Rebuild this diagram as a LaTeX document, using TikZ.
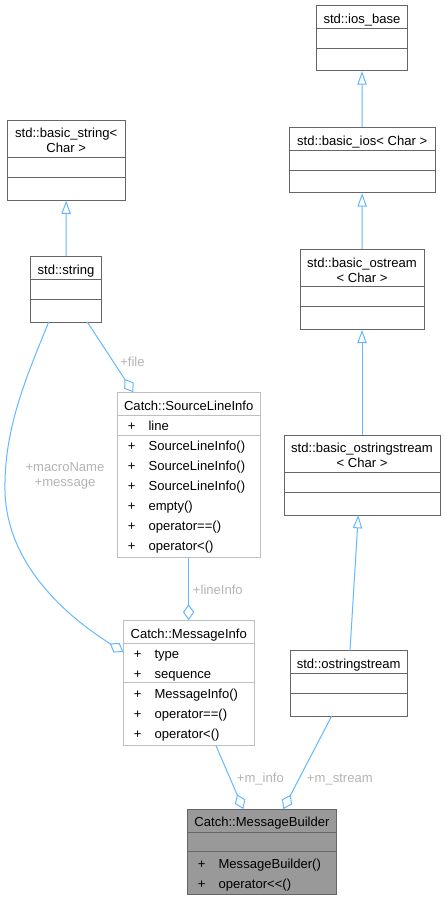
\documentclass[tikz,border=0pt]{standalone}
\usepackage{fontspec}
\setmainfont{Liberation Sans}
\usetikzlibrary{arrows.meta}
\definecolor{edgeblue}{HTML}{63B8FF}
\definecolor{stdgray}{HTML}{666666}
\definecolor{catchgray}{HTML}{BFBFBF}
\definecolor{fillgray}{HTML}{999999}
\definecolor{lblgray}{HTML}{B4B4B4}
\newcommand\ubox[6]{%
  \node[#6, minimum width={(#4-#2)*0.75pt}, minimum height={(#5-#3)*0.75pt}] (#1) at ({(#2+#4)/2},{(#3+#5)/2}) {};}
\newcommand\udiv[3]{\draw[#3] (#1.west |- 0,#2) -- (#1.east |- 0,#2);}
\begin{document}
\begin{tikzpicture}[x=0.75pt,y=-0.75pt,
  font=\fontsize{9.8pt}{11.25pt}\selectfont,
  stdbox/.style={draw=stdgray, line width=0.75pt, inner sep=0pt, rectangle},
  catchbox/.style={draw=catchgray, line width=0.75pt, inner sep=0pt, rectangle},
  mainbox/.style={draw=stdgray, fill=fillgray, line width=0.75pt, inner sep=0pt, rectangle},
  stdline/.style={draw=stdgray, line width=0.75pt},
  catchline/.style={draw=catchgray, line width=0.75pt},
  ttl/.style={inner sep=0pt, anchor=base},
  ttltwo/.style={inner sep=0pt, anchor=center, align=center},
  plus/.style={inner sep=0pt, anchor=base},
  mem/.style={inner sep=0pt, anchor=base west},
  lbl/.style={inner sep=0pt, text=lblgray, anchor=base west},
  inh/.style={draw=edgeblue, line width=0.75pt, -{Triangle[open, length=10pt, width=7pt]}},
  agg/.style={draw=edgeblue, line width=0.75pt, -{Diamond[open, length=12pt, width=8.5pt]}}
]
\useasboundingbox[fill=white] (0,0) rectangle (445,900);

% std::ios_base
\ubox{iosbase}{316.7}{5}{407.3}{70.7}{stdbox}
\udiv{iosbase}{28}{stdline}\udiv{iosbase}{48}{stdline}
\node[ttl] (iosbaset) at (362,23) {std::ios\_base};

% std::basic_ios
\ubox{bios}{289.3}{127.3}{435}{192.7}{stdbox}
\udiv{bios}{150}{stdline}\udiv{bios}{170}{stdline}
\node[ttl] (biost) at (362.2,145.4) {std::basic\_ios< Char >};

% std::basic_ostream
\ubox{bostream}{300}{249.3}{424}{329.3}{stdbox}
\udiv{bostream}{286}{stdline}\udiv{bostream}{306.7}{stdline}
\node[ttltwo] (bostreamt) at (362,270) {std::basic\_ostream\\< Char >};

% std::basic_string
\ubox{bstring}{7.3}{120}{125}{200}{stdbox}
\udiv{bstring}{157.3}{stdline}\udiv{bstring}{177.3}{stdline}
\node[ttltwo] (bstringt) at (66.2,140.8) {std::basic\_string<\\Char >};

% std::string
\ubox{string}{30.7}{256.7}{101.3}{322}{stdbox}
\udiv{string}{279.3}{stdline}\udiv{string}{299.3}{stdline}
\node[ttl] (stringt) at (66,274) {std::string};

% Catch::SourceLineInfo
\ubox{sli}{117.3}{392.3}{260}{557.7}{catchbox}
\udiv{sli}{415.3}{catchline}\udiv{sli}{435.3}{catchline}
\node[ttl] (slit) at (188.7,410) {Catch::SourceLineInfo};
\node[plus] (slip1) at (131.7,430.7) {+};
\node[mem] (slim1) at (148.3,430.7) {line};
\node[plus] (slip2) at (131.7,450.7) {+};
\node[mem] (slim2) at (148.3,450.7) {SourceLineInfo()};
\node[plus] (slip3) at (131.7,470.7) {+};
\node[mem] (slim3) at (148.3,470.7) {SourceLineInfo()};
\node[plus] (slip4) at (131.7,490.7) {+};
\node[mem] (slim4) at (148.3,490.7) {SourceLineInfo()};
\node[plus] (slip5) at (131.7,510.7) {+};
\node[mem] (slim5) at (148.3,510.7) {empty()};
\node[plus] (slip6) at (131.7,530.7) {+};
\node[mem] (slim6) at (148.3,530.7) {operator==()};
\node[plus] (slip7) at (131.7,550.7) {+};
\node[mem] (slim7) at (148.3,550.7) {operator<()};

% std::basic_ostringstream
\ubox{bostrs}{284}{435}{440}{515}{stdbox}
\udiv{bostrs}{472.7}{stdline}\udiv{bostrs}{492.7}{stdline}
\node[ttltwo] (bostrst) at (362,455.8) {std::basic\_ostringstream\\< Char >};

% Catch::MessageInfo
\ubox{minfo}{123.3}{620.7}{254}{745.7}{catchbox}
\udiv{minfo}{643.3}{catchline}\udiv{minfo}{682.7}{catchline}
\node[ttl] (minfot) at (188.7,638) {Catch::MessageInfo};
\node[plus] (mip1) at (137.7,658.4) {+};
\node[mem] (mim1) at (154.3,658.4) {type};
\node[plus] (mip2) at (137.7,678.4) {+};
\node[mem] (mim2) at (154.3,678.4) {sequence};
\node[plus] (mip3) at (137.7,698.4) {+};
\node[mem] (mim3) at (154.3,698.4) {MessageInfo()};
\node[plus] (mip4) at (137.7,718.4) {+};
\node[mem] (mim4) at (154.3,718.4) {operator==()};
\node[plus] (mip5) at (137.7,738.4) {+};
\node[mem] (mim5) at (154.3,738.4) {operator<()};

% std::ostringstream
\ubox{ostr}{290}{650.7}{407.3}{716}{stdbox}
\udiv{ostr}{673.3}{stdline}\udiv{ostr}{693.3}{stdline}
\node[ttl] (ostrt) at (348.7,668) {std::ostringstream};

% Catch::MessageBuilder
\ubox{mb}{187.3}{809}{336.7}{894.3}{mainbox}
\udiv{mb}{832.3}{stdline}\udiv{mb}{851.7}{stdline}
\node[ttl] (mbt) at (262,826.7) {Catch::MessageBuilder};
\node[plus] (mbp1) at (201.7,868) {+};
\node[mem] (mbm1) at (218.3,868) {MessageBuilder()};
\node[plus] (mbp2) at (201.7,888) {+};
\node[mem] (mbm2) at (218.3,888) {operator<{}<()};

% inheritance edges
\draw[inh] (bios.north) -- (iosbase.south);
\draw[inh] (bostream.north) -- (bios.south);
\draw[inh] (bostrs.north) -- (bostream.south);
\draw[inh] (string.north) -- (bstring.south);
\coordinate (ostrtop) at (350,650.7);
\coordinate (bostrsbot) at (358.3,515);
\draw[inh] (ostrtop) -- (bostrsbot);

% aggregation edges
\coordinate (strbotR) at (87.3,322);
\coordinate (slitop) at (133.3,392.3);
\draw[agg] (strbotR) -- (slitop);
\coordinate (strbotL) at (48.7,322);
\coordinate (minfoleft) at (123.3,652);
\draw[agg] (strbotL) .. controls (25,380) and (4,430) .. (5,490)
  .. controls (6,560) and (60,612) .. (minfoleft);
\draw[agg] (sli.south) -- (minfo.north);
\coordinate (minfobot) at (216,745.7);
\coordinate (mbtopL) at (243.3,809);
\draw[agg] (minfobot) -- (mbtopL);
\coordinate (ostrbot) at (331.7,716);
\coordinate (mbtopR) at (283.3,809);
\draw[agg] (ostrbot) -- (mbtopR);

% edge labels
\node[lbl] (lfile) at (120,366.4) {+file};
\node[inner sep=0pt, text=lblgray, align=center, anchor=center] (lmacro) at (65,475.5) {+macroName\\+message};
\node[lbl] (llineinfo) at (192.7,594) {+lineInfo};
\node[lbl] (lminfo) at (236.7,782.4) {+m\_info};
\node[lbl] (lmstream) at (306.7,782.4) {+m\_stream};
\end{tikzpicture}
\end{document}
